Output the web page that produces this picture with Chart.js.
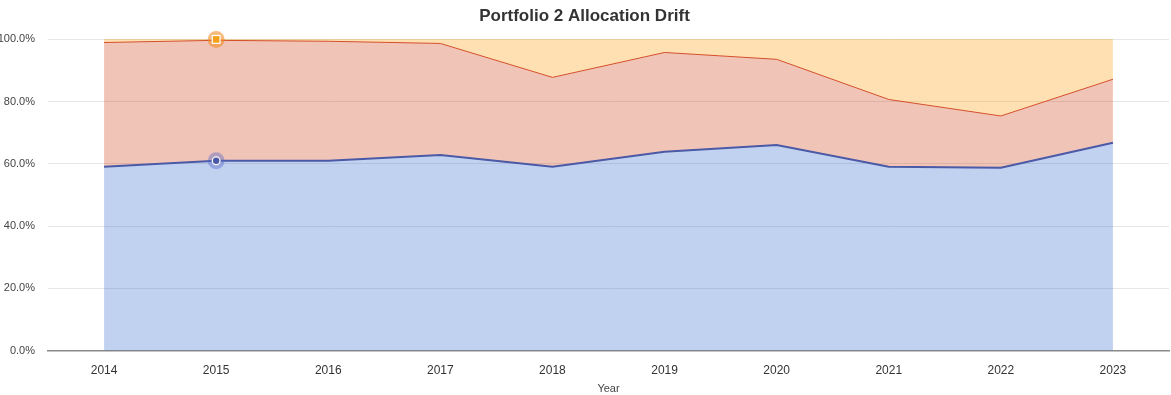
<!DOCTYPE html>
<html>
<head>
<meta charset="utf-8">
<script src="https://cdn.jsdelivr.net/npm/chart.js@4.4.1/dist/chart.umd.min.js"></script>
<style>
    html, body { margin: 0; padding: 0; background: #fff; }
    #wrap { width: 1171px; height: 395px; }
</style>
</head>
<body>
<div id="wrap"><canvas id="chart-drift"></canvas></div>
<script>
// Datos (porcentaje por año)
const years = ['2014', '2015', '2016', '2017', '2018', '2019', '2020', '2021', '2022', '2023'];
const stocks = [59.1, 61.0, 61.0, 62.9, 59.1, 63.9, 66.1, 59.1, 58.8, 66.8];
const bonds = [39.9, 38.7, 38.4, 35.8, 28.7, 31.9, 27.5, 21.6, 16.6, 20.4];
const cash = [1.0, 0.3, 0.6, 1.3, 12.2, 4.2, 6.4, 19.3, 24.6, 12.8];
const yTicks = [0, 20, 40, 60, 80, 100];
const highlightIndex = 1;

const FONT = 'Liberation Sans, Arial, sans-serif';

/**
 * Marcadores resaltados (efecto hover) en 2015
 */
const hoverMarkers = {
    id: 'hoverMarkers',
    afterDatasetsDraw(chart) {
        const ctx = chart.ctx;
        const marks = [
            { ds: 0, halo: 'rgba(80,100,200,0.4)', fill: '#4a58a6', shape: 'circle' },
            { ds: 2, halo: 'rgba(240,140,40,0.6)', fill: '#f4a11d', shape: 'square' }
        ];
        marks.forEach(m => {
            const pt = chart.getDatasetMeta(m.ds).data[highlightIndex];
            if (!pt) return;
            ctx.save();
            ctx.fillStyle = m.halo;
            ctx.beginPath();
            ctx.arc(pt.x, pt.y, 8.5, 0, Math.PI * 2);
            ctx.fill();
            ctx.fillStyle = '#fff';
            if (m.shape === 'circle') {
                ctx.beginPath();
                ctx.arc(pt.x, pt.y, 4.5, 0, Math.PI * 2);
                ctx.fill();
                ctx.fillStyle = m.fill;
                ctx.beginPath();
                ctx.arc(pt.x, pt.y, 3.2, 0, Math.PI * 2);
                ctx.fill();
            } else {
                ctx.fillRect(pt.x - 4.5, pt.y - 4.5, 9, 9);
                ctx.fillStyle = m.fill;
                ctx.fillRect(pt.x - 3.3, pt.y - 3.3, 6.6, 6.6);
            }
            ctx.restore();
        });
    }
};

const ctx = document.getElementById('chart-drift');

new Chart(ctx, {
    type: 'line',
    data: {
        labels: years,
        datasets: [
            {
                label: 'Stocks',
                data: stocks,
                borderColor: '#4b5aa6',
                backgroundColor: 'rgba(51,102,204,0.3)',
                borderWidth: 2,
                fill: 'origin',
                pointRadius: 0,
                tension: 0
            },
            {
                label: 'Bonds',
                data: bonds,
                borderColor: '#d4502a',
                backgroundColor: 'rgba(210,60,20,0.3)',
                borderWidth: 1,
                fill: '-1',
                pointRadius: 0,
                tension: 0
            },
            {
                label: 'Cash',
                data: cash,
                borderColor: '#f2b055',
                backgroundColor: 'rgba(255,153,0,0.3)',
                borderWidth: 1,
                fill: '-1',
                pointRadius: 0,
                tension: 0
            }
        ]
    },
    options: {
        responsive: true,
        maintainAspectRatio: false,
        animation: false,
        layout: {
            padding: { left: 0, right: 2, top: 0, bottom: 0 }
        },
        plugins: {
            legend: { display: false },
            tooltip: { enabled: false },
            title: {
                display: true,
                text: 'Portfolio 2 Allocation Drift',
                color: '#333',
                font: { family: FONT, size: 17, weight: 'bold', lineHeight: 1.2 },
                padding: { top: 6, bottom: 13 }
            }
        },
        scales: {
            x: {
                offset: true,
                grid: { display: false },
                border: { display: true, color: '#8a8a8a', width: 1.5 },
                ticks: {
                    color: '#333',
                    padding: 5,
                    font: { family: FONT, size: 12, lineHeight: 1.1 }
                },
                title: {
                    display: true,
                    text: 'Year',
                    color: '#444',
                    font: { family: FONT, size: 11, lineHeight: 1.1 },
                    padding: { top: 1, bottom: 0 }
                }
            },
            y: {
                stacked: true,
                min: 0,
                max: 100,
                afterFit: scale => { scale.width = 48; },
                afterBuildTicks: scale => { scale.ticks = yTicks.map(v => ({ value: v })); },
                grid: { color: '#e6e6e6', drawTicks: false },
                border: { display: false },
                ticks: {
                    color: '#444',
                    padding: 13,
                    font: { family: FONT, size: 11 },
                    callback: v => v.toFixed(1) + '%'
                }
            }
        }
    },
    plugins: [hoverMarkers]
});
</script>
</body>
</html>
